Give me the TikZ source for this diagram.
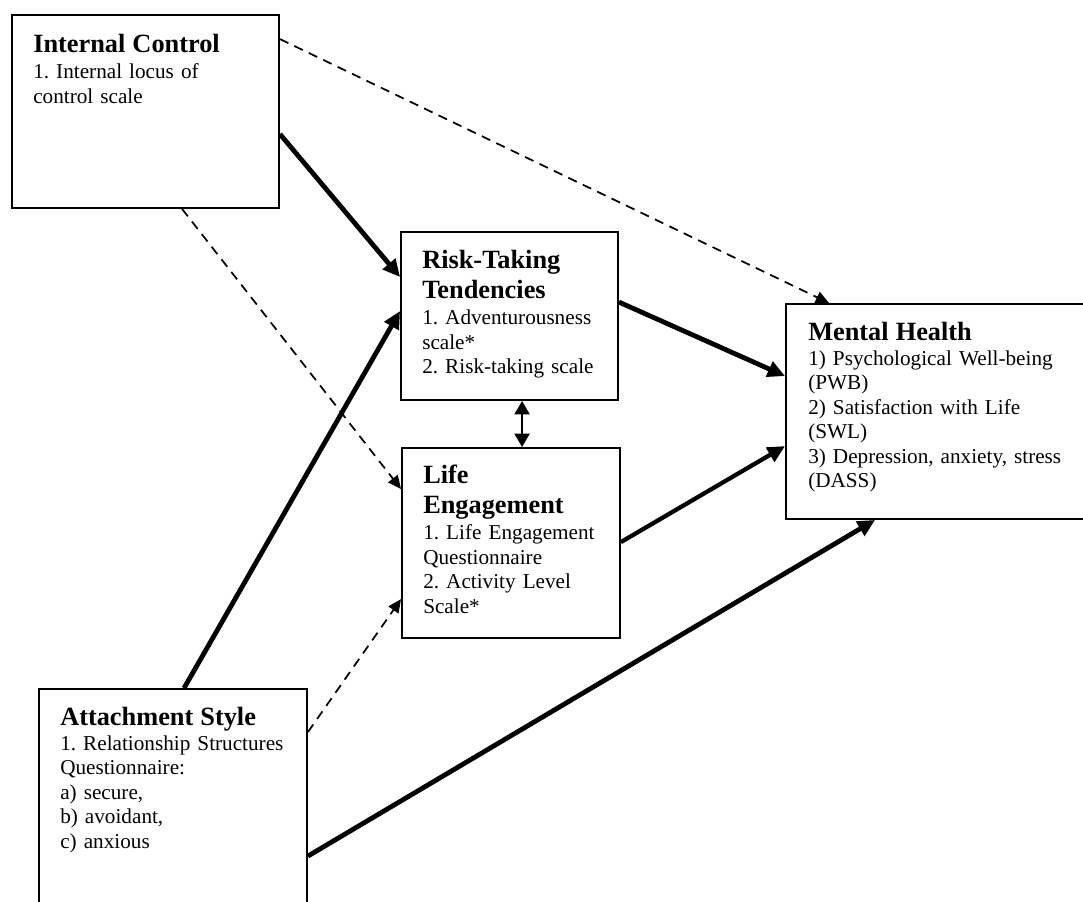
\documentclass[tikz,border=0pt]{standalone}
\usepackage{fontspec}
\setmainfont{Liberation Serif}
\usetikzlibrary{arrows.meta,calc,fit}
\newcommand{\bodyfnt}{\fontsize{15.9pt}{18.4pt}\selectfont\frenchspacing}
\newcommand{\titlefnt}{\fontsize{19.75pt}{22.5pt}\selectfont\bfseries}
\begin{document}
\begin{tikzpicture}[x=0.75pt,y=-0.75pt,
  box/.style={draw=black,line width=1.4pt,inner sep=0pt,fill=none},
  txt/.style={inner sep=0pt,anchor=base west,text width=300pt,align=left,font=\bodyfnt},
  solidarrow/.style={line width=3.6pt,-{Triangle[length=13pt,width=12pt]}},
  medarrow/.style={line width=3.2pt,-{Triangle[length=13pt,width=12pt]}},
  dasharrow/.style={line width=1.3pt,dash pattern=on 7pt off 5pt,-{Triangle[length=10pt,width=9pt]}},
  twoarrow/.style={line width=2pt,{Triangle[length=10pt,width=11pt]}-{Triangle[length=10pt,width=11pt]}}]
\clip (0,0) rectangle (1083,901);
\fill[white] (0,0) rectangle (1083,901);
% box corners
\coordinate (ica) at (12,15);   \coordinate (icb) at (279,208);
\coordinate (rka) at (401,232); \coordinate (rkb) at (618,400);
\coordinate (lfa) at (402,448); \coordinate (lfb) at (620,638);
\coordinate (mha) at (786,304); \coordinate (mhb) at (1110,519);
\coordinate (ata) at (39,689);  \coordinate (atb) at (307,930);
% boxes
\node[box,fit=(ica)(icb)] (ic) {};
\node[box,fit=(rka)(rkb)] (risk) {};
\node[box,fit=(lfa)(lfb)] (life) {};
\node[box,fit=(mha)(mhb)] (mh) {};
\node[box,fit=(ata)(atb)] (att) {};
% texts
\node[txt] (ictxt) at (33,52) {{\titlefnt Internal Control\par}\vspace{1.5pt}1. Internal locus of\\control scale};
\node[txt] (risktxt) at (422,268) {{\titlefnt Risk-Taking\\Tendencies\par}\vspace{1.5pt}1. Adventurousness\\scale*\\2. Risk-taking scale};
\node[txt] (lifetxt) at (423,483) {{\titlefnt Life\\Engagement\par}\vspace{1.5pt}1. Life Engagement\\Questionnaire\\2. Activity Level\\Scale*};
\node[txt] (mhtxt) at (808,340) {{\titlefnt Mental Health\par}\vspace{0.5pt}1) Psychological Well-being\\(PWB)\\2) Satisfaction with Life\\(SWL)\\3) Depression, anxiety, stress\\(DASS)};
\node[txt] (atttxt) at (60,725) {{\titlefnt Attachment Style\par}\vspace{0.5pt}1. Relationship Structures\\Questionnaire:\\a) secure,\\b) avoidant,\\c) anxious};
% connectors
\draw[solidarrow] ($(ic.north east)+(0,120)$) -- ($(risk.north west)+(0,46)$);
\draw[solidarrow] ($(att.north west)+(146,0)$) -- ($(risk.north west)+(0,80)$);
\draw[solidarrow] ($(risk.north east)+(0,71)$) -- ($(mh.north west)+(0,73)$);
\draw[medarrow] ($(life.north east)+(0,95)$) -- ($(mh.north west)+(0,143)$);
\draw[solidarrow] ($(att.north east)+(0,168)$) -- ($(mh.south west)+(90,0)$);
\draw[dasharrow] ($(ic.north east)+(0,25)$) -- ($(mh.north west)+(44,0)$);
\draw[dasharrow] ($(ic.south west)+(171,0)$) -- ($(life.north west)+(0,42)$);
\draw[dasharrow] ($(att.north east)+(0,44)$) -- ($(life.north west)+(0,152)$);
\draw[twoarrow] ($(risk.south west)+(122,0)$) -- ($(life.north west)+(121,0)$);
\end{tikzpicture}
\end{document}
